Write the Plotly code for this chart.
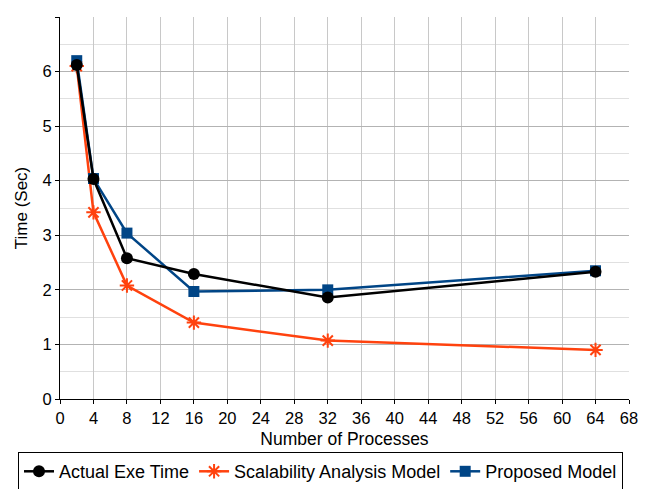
import plotly.graph_objects as go

processes = [2, 4, 8, 16, 32, 64]
actual = [6.12, 4.03, 2.58, 2.29, 1.86, 2.33]
scalability = [6.10, 3.42, 2.08, 1.40, 1.07, 0.90]
proposed = [6.20, 4.04, 3.04, 1.97, 2.00, 2.35]

x_ticks = list(range(0, 69, 4))

FONT = "Liberation Sans, Arial, sans-serif"

fig = go.Figure()
fig.add_trace(go.Scatter(
    x=processes, y=scalability, name="Scalability Analysis Model", mode="lines+markers",
    line=dict(color="#ff420e", width=2.5),
    marker=dict(symbol="asterisk-open", size=12, line=dict(color="#ff420e", width=2)),
    legendrank=2))
fig.add_trace(go.Scatter(
    x=processes, y=proposed, name="Proposed Model", mode="lines+markers",
    line=dict(color="#004586", width=2.5),
    marker=dict(symbol="square", size=11, color="#004586"),
    legendrank=3))
fig.add_trace(go.Scatter(
    x=processes, y=actual, name="Actual Exe Time", mode="lines+markers",
    line=dict(color="#000000", width=2.5),
    marker=dict(symbol="circle", size=12, color="#000000"),
    legendrank=1))

fig.update_layout(
    width=654, height=489,
    margin=dict(l=52, r=33, t=9, b=98, autoexpand=False),
    paper_bgcolor="white", plot_bgcolor="white",
    font=dict(family=FONT, size=16, color="#000000"),
    showlegend=True,
    legend=dict(orientation="h", x=-0.0738, xanchor="left", y=-0.139, yanchor="top",
                bordercolor="#000000", borderwidth=1, font=dict(size=18, color="#000000"),
                itemwidth=30, traceorder="normal"),
    xaxis=dict(
        range=[0, 68], tickvals=x_ticks, ticktext=[str(v) for v in x_ticks],
        showgrid=True, gridcolor="#c8c8c8", gridwidth=1,
        showline=True, linecolor="#000000", linewidth=1,
        ticks="outside", ticklen=4, tickcolor="#000000",
        zeroline=False,
        title=dict(text="Number of Processes", font=dict(size=17.5), standoff=6),
        tickfont=dict(size=16.5),
    ),
    yaxis=dict(
        range=[0, 7], dtick=1, tick0=0,
        showgrid=True, gridcolor="#b3b3b3", gridwidth=1,
        minor=dict(dtick=0.5, showgrid=True, gridcolor="#e0e0e0", gridwidth=1),
        showline=True, linecolor="#000000", linewidth=1,
        ticks="outside", ticklen=4, tickcolor="#000000",
        zeroline=False,
        title=dict(text="Time (Sec)", font=dict(size=17), standoff=10),
        tickfont=dict(size=16.5),
    ),
)

fig.write_html("out.html")
